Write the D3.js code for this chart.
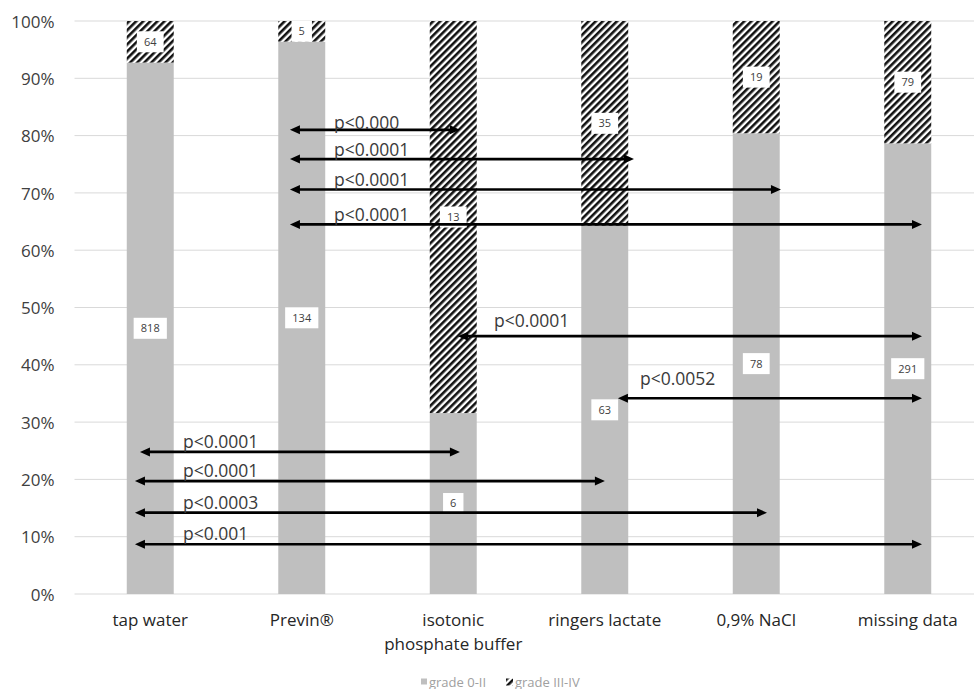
<!DOCTYPE html>
<html>
<head>
<meta charset="utf-8">
<script src="https://cdn.jsdelivr.net/npm/d3@7"></script>
<style>
  body { margin: 0; background: #fff; }
  svg { display: block; font-family: "Open Sans", sans-serif; }
</style>
</head>
<body>
<svg id="chart" width="974" height="689"></svg>
<script>
// categories and counts per grade
var categories = ["tap water", "Previn\u00AE", "isotonic\nphosphate buffer", "ringers lactate", "0,9% NaCl", "missing data"];
var gradeLow = [818, 134, 6, 63, 78, 291];   // grade 0-II
var gradeHigh = [64, 5, 13, 35, 19, 79];     // grade III-IV
var yTicks = [0, 0.1, 0.2, 0.3, 0.4, 0.5, 0.6, 0.7, 0.8, 0.9, 1];

// significance arrows: from/to in category index units, level as share
var arrowFrom = [0.922, 0.922, 0.922, 0.922, 2.031, 3.087, -0.068, -0.101, -0.101, -0.101];
var arrowTo = [2.044, 3.193, 4.163, 5.094, 5.094, 5.094, 2.044, 3.001, 4.071, 5.094];
var arrowLevel = [0.810, 0.759, 0.706, 0.645, 0.450, 0.3415, 0.248, 0.197, 0.142, 0.0867];
var arrowLabel = ["p<0.000", "p<0.0001", "p<0.0001", "p<0.0001", "p<0.0001", "p<0.0052",
                  "p<0.0001", "p<0.0001", "p<0.0003", "p<0.001"];

// layout (label offsets relative to the arrow start, in px)
var labelDx = [44, 44, 44, 44, 36, 22, 43, 48, 48, 48];
var labelDy = [-1, -3, -3, -3, -9, -13, -4, -4, -4, -4];

var svg = d3.select("#chart");
var plotLeft = 74.5, plotRight = 983.5, plotTop = 21, plotBottom = 594;

var rows = categories.map(function(c, i) {
    return { cat: c, low: gradeLow[i], high: gradeHigh[i] };
});

var stack = d3.stack().keys(["low", "high"]).offset(d3.stackOffsetExpand);
var series = stack(rows);

var x = d3.scaleBand().domain(categories).range([plotLeft, plotRight])
    .paddingInner(0.69).paddingOuter(0.345);
var y = d3.scaleLinear().domain([0, 1]).range([plotBottom, plotTop]);
var xi = d3.scaleLinear().domain([0, 5])
    .range([x(categories[0]) + x.bandwidth() / 2, x(categories[5]) + x.bandwidth() / 2]);

// hatch pattern
var defs = svg.append("defs");
var pat = defs.append("pattern")
    .attr("id", "hatch")
    .attr("patternUnits", "userSpaceOnUse")
    .attr("width", 5).attr("height", 5)
    .attr("patternTransform", "rotate(45)");
pat.append("rect").attr("width", 5).attr("height", 5).attr("fill", "#fff");
pat.append("rect").attr("width", 2.6).attr("height", 5).attr("fill", "#111");

// gridlines
svg.append("g")
    .selectAll("line")
    .data(yTicks)
    .enter()
    .append("line")
    .attr("x1", plotLeft).attr("x2", 974)
    .attr("y1", function(d) { return y(d); })
    .attr("y2", function(d) { return y(d); })
    .attr("stroke", "#d9d9d9")
    .attr("stroke-width", 1);

// y axis labels
var yAxis = svg.append("g")
    .attr("transform", "translate(" + (plotLeft - 20) + ",0)")
    .call(d3.axisLeft(y).tickValues(yTicks).tickFormat(d3.format(".0%")).tickSize(0).tickPadding(0));
yAxis.select(".domain").remove();
yAxis.selectAll("text")
    .attr("font-family", "Open Sans")
    .attr("font-size", "17px")
    .attr("fill", "#404040")
    .attr("dy", "0.36em");

// bars
var fills = ["#bfbfbf", "url(#hatch)"];
svg.append("g")
    .selectAll("g")
    .data(series)
    .enter()
    .append("g")
    .attr("fill", function(d, i) { return fills[i]; })
    .selectAll("rect")
    .data(function(d) { return d; })
    .enter()
    .append("rect")
    .attr("x", function(d) { return x(d.data.cat); })
    .attr("width", x.bandwidth())
    .attr("y", function(d) { return y(d[1]); })
    .attr("height", function(d) { return y(d[0]) - y(d[1]); });

// data labels
var labels = [];
series.forEach(function(s) {
    s.forEach(function(d) {
        labels.push({ cat: d.data.cat, v: d.data[s.key], mid: (d[0] + d[1]) / 2 });
    });
});
var lab = svg.append("g")
    .selectAll("g")
    .data(labels)
    .enter()
    .append("g")
    .attr("transform", function(d) {
        return "translate(" + (x(d.cat) + x.bandwidth() / 2) + "," + y(d.mid) + ")";
    });
lab.append("rect")
    .attr("x", function(d) { return -(String(d.v).length * 6.4 + 14) / 2; })
    .attr("width", function(d) { return String(d.v).length * 6.4 + 14; })
    .attr("y", -10.5).attr("height", 21)
    .attr("fill", "#fff");
lab.append("text")
    .attr("text-anchor", "middle")
    .attr("dy", "0.36em")
    .attr("font-size", "11px")
    .attr("fill", "#404040")
    .text(function(d) { return d.v; });

// category labels
var xAxis = svg.append("g")
    .attr("transform", "translate(0," + plotBottom + ")")
    .call(d3.axisBottom(x).tickSize(0).tickPadding(0));
xAxis.select(".domain").remove();
xAxis.selectAll("text")
    .attr("font-family", "Open Sans")
    .attr("font-size", "17px")
    .attr("fill", "#262626")
    .each(function(d) {
        var t = d3.select(this);
        var parts = d.split("\n");
        t.text(null).attr("y", 0).attr("dy", null);
        parts.forEach(function(p, k) {
            t.append("tspan").attr("x", 0).attr("y", 32 + k * 24).text(p);
        });
    });

// significance arrows
var head = 10, halfW = 4.5;
var arr = svg.append("g")
    .selectAll("g")
    .data(arrowLabel.map(function(l, i) {
        return { x1: xi(arrowFrom[i]), x2: xi(arrowTo[i]), y: y(arrowLevel[i]), label: l, i: i };
    }))
    .enter()
    .append("g");
arr.append("line")
    .attr("x1", function(d) { return d.x1 + head - 1; })
    .attr("x2", function(d) { return d.x2 - head + 1; })
    .attr("y1", function(d) { return d.y; })
    .attr("y2", function(d) { return d.y; })
    .attr("stroke", "#000")
    .attr("stroke-width", 2.6);
arr.append("path")
    .attr("fill", "#000")
    .attr("d", function(d) {
        return "M" + d.x1 + "," + d.y + "L" + (d.x1 + head) + "," + (d.y - halfW) +
            "L" + (d.x1 + head) + "," + (d.y + halfW) + "Z" +
            "M" + d.x2 + "," + d.y + "L" + (d.x2 - head) + "," + (d.y - halfW) +
            "L" + (d.x2 - head) + "," + (d.y + halfW) + "Z";
    });
arr.append("text")
    .attr("x", function(d) { return d.x1 + labelDx[d.i]; })
    .attr("y", function(d) { return d.y + labelDy[d.i]; })
    .attr("font-size", "17.5px")
    .attr("fill", "#3a3a3a")
    .text(function(d) { return d.label; });

// legend
var legend = svg.append("g").attr("transform", "translate(0,682)");
legend.append("rect").attr("x", 421).attr("y", -3.5).attr("width", 6).attr("height", 6).attr("fill", "#bfbfbf");
legend.append("text").attr("x", 429).attr("y", 4.5).attr("font-size", "13px").attr("fill", "#a0a0a0").text("grade 0-II");
legend.append("rect").attr("x", 506).attr("y", -3.5).attr("width", 7).attr("height", 7).attr("fill", "url(#hatch)");
legend.append("text").attr("x", 515).attr("y", 4.5).attr("font-size", "13px").attr("fill", "#a0a0a0").text("grade III-IV");
</script>
</body>
</html>
